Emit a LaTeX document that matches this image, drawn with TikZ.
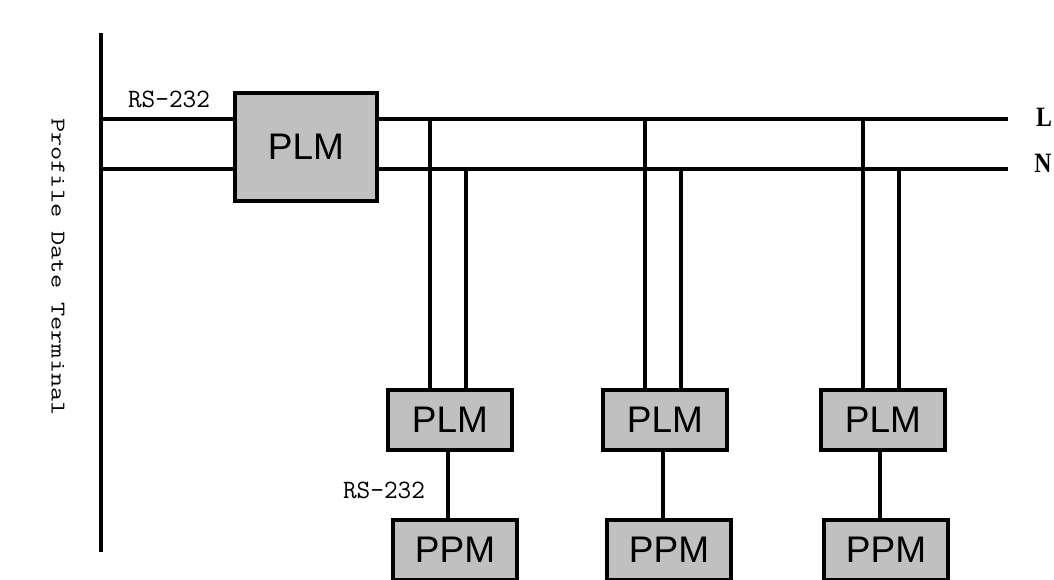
\documentclass[tikz,border=0pt]{standalone}
\usepackage{fontspec}
\usepackage{graphicx}
\newfontfamily\arialf{Liberation Sans}
\newfontfamily\monof{Latin Modern Mono}
\newfontfamily\serifbf{Liberation Serif}
\definecolor{boxgray}{HTML}{C0C0C0}
\tikzset{
  unitbox/.style={draw, line width=3.6pt, fill=boxgray, inner sep=0pt,
    font=\arialf\fontsize{37}{37}\selectfont},
  bigbox/.style={unitbox, minimum width=142pt, minimum height=108pt},
  smallbox/.style={unitbox, minimum width=124pt, minimum height=60pt},
  wire/.style={line width=3.3pt},
  monolabel/.style={font=\monof\fontsize{26.5}{26.5}\selectfont, inner sep=0pt},
  sidelabel/.style={font=\monof\fontsize{21}{21}\selectfont, inner sep=0pt},
  buslabel/.style={font=\serifbf\bfseries\fontsize{28}{28}\selectfont, inner sep=0pt}
}
\begin{document}
\begin{tikzpicture}[x=1pt,y=-1pt]
\useasboundingbox (0,0) rectangle (1054,579);
\clip (0,0) rectangle (1054,579);
\fill[white] (0,0) rectangle (1054,579);

\coordinate (barT) at (101,33);
\coordinate (barB) at (101,552);
\coordinate (Lend) at (1008,119);
\coordinate (Nend) at (1008,169);

\node[bigbox] (plm0) at (306,147) {PLM};
\node[smallbox] (plm1) at (450,420) {PLM};
\node[smallbox] (plm2) at (665,420) {PLM};
\node[smallbox] (plm3) at (883,420) {PLM};
\node[smallbox] (ppm1) at (455,550) {PPM};
\node[smallbox] (ppm2) at (669,550) {PPM};
\node[smallbox] (ppm3) at (886,550) {PPM};

\begin{scope}[wire]
\draw (barT) -- (barB);
\draw (barT |- Lend) -- (plm0.west |- Lend);
\draw (barT |- Nend) -- (plm0.west |- Nend);
\draw (plm0.east |- Lend) -- (Lend);
\draw (plm0.east |- Nend) -- (Nend);
\foreach \p in {plm1,plm2,plm3}{
  \draw ([xshift=-20pt]\p.north) -- ([xshift=-20pt]\p.north |- Lend);
  \draw ([xshift=16pt]\p.north) -- ([xshift=16pt]\p.north |- Nend);
}
\draw ([xshift=-2pt]plm1.south) -- ([xshift=-2pt]plm1.south |- ppm1.north);
\draw ([xshift=-2pt]plm2.south) -- ([xshift=-2pt]plm2.south |- ppm2.north);
\draw ([xshift=-3pt]plm3.south) -- ([xshift=-3pt]plm3.south |- ppm3.north);
\end{scope}

% redraw boxes on top of wires
\node[bigbox] at (plm0) {PLM};
\node[smallbox] at (plm1) {PLM};
\node[smallbox] at (plm2) {PLM};
\node[smallbox] at (plm3) {PLM};
\node[smallbox] at (ppm1) {PPM};
\node[smallbox] at (ppm2) {PPM};
\node[smallbox] at (ppm3) {PPM};

\node[monolabel] (rs1) at (169,99) {RS-232};
\node[monolabel] (rs2) at (384,490) {RS-232};
\node[sidelabel, rotate=-90] (pdt) at (58,267) {\scalebox{1.31}[1]{Profile Date Terminal}};
\node[buslabel] (lL) at (1044,117) {\scalebox{0.85}[1]{L}};
\node[buslabel] (lN) at (1043,163) {\scalebox{0.85}[1]{N}};
\end{tikzpicture}
\end{document}
